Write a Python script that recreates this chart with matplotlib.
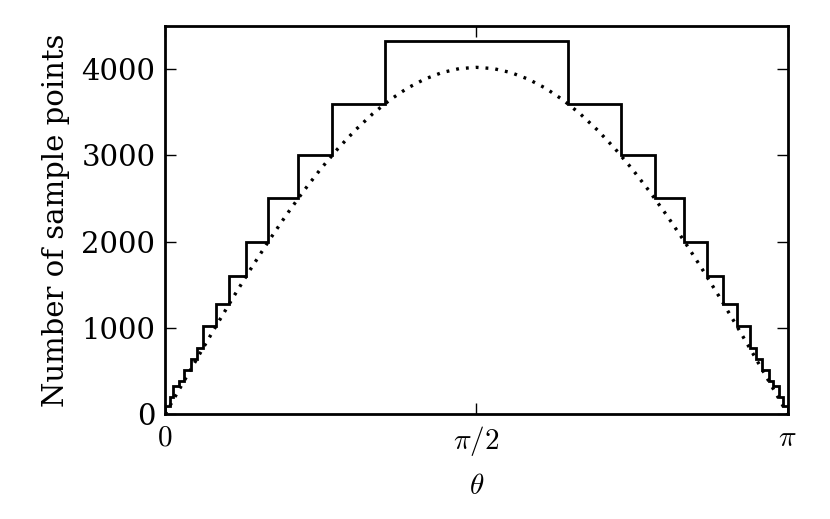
import matplotlib
matplotlib.use('Agg')
import matplotlib.pyplot as plt
import numpy as np

# %%
# ring edges (rad) and number of points on each ring band
edges = [0, 0.022, 0.042, 0.072, 0.096, 0.128, 0.160, 0.192, 0.258, 0.324, 0.409,
         0.521, 0.671, 0.842, 1.110, 2.032, 2.300, 2.470, 2.620, 2.733, 2.817,
         2.884, 2.950, 2.982, 3.014, 3.046, 3.070, 3.100, 3.120, np.pi]
levels = [96, 192, 320, 384, 512, 640, 768, 1024, 1280, 1600, 2000, 2500, 3000,
          3600, 4320, 3600, 3000, 2500, 2000, 1600, 1280, 1024, 768, 640, 512,
          384, 320, 192, 96]

# ideal curve, every 5 degrees
theta_deg = list(range(0, 181, 5))
ideal = [0, 350, 698, 1040, 1375, 1699, 2010, 2306, 2584, 2843, 3080, 3293, 3481,
         3643, 3778, 3883, 3959, 4005, 4020, 4005, 3959, 3883, 3778, 3643, 3481,
         3293, 3080, 2843, 2584, 2306, 2010, 1699, 1375, 1040, 698, 350, 0]

# %%
plt.rcParams['font.family'] = 'DejaVu Serif'
plt.rcParams['mathtext.fontset'] = 'cm'
plt.rcParams['font.size'] = 21

fig = plt.figure(figsize=(8.3, 5.19), dpi=100)
ax = fig.add_axes([0.199, 0.2023, 0.750, 0.7477])

ax.stairs(levels, edges, color='black', linewidth=2)
ax.plot(np.deg2rad(theta_deg), ideal, color='black', linewidth=2.4,
        linestyle=(0, (0.85, 2.1)), dash_capstyle='butt')

ax.set_xlim(0, np.pi)
ax.set_ylim(0, 4500)
ax.set_xticks([0, np.pi / 2, np.pi], ['$0$', r'$\pi/2$', r'$\pi$'])
ax.set_yticks(range(0, 4001, 1000))
ax.tick_params(direction='in', length=8, width=1, top=True, right=True, pad=7)
for spine in ax.spines.values():
    spine.set_linewidth(2)

ax.set_xlabel(r'$\theta$', labelpad=10)
ax.set_ylabel('Number of sample points', labelpad=8)

fig.savefig('out.png', dpi=100)
